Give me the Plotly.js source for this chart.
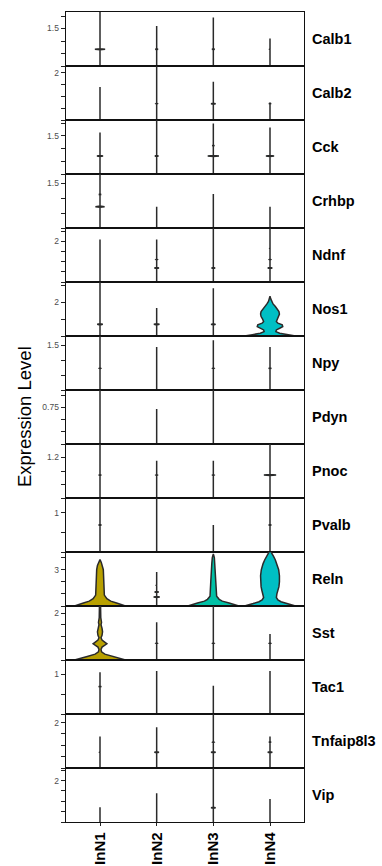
<!DOCTYPE html>
<html>
<head>
<meta charset="utf-8">
<script src="https://cdn.plot.ly/plotly-3.0.1.min.js"></script>
<style>html,body{margin:0;padding:0;background:#fff;}#chart{width:382px;height:866px;}</style>
</head>
<body>
<div id="chart"></div>
<script>
// ---------- DATA ----------
const clusters = ['InN1', 'InN2', 'InN3', 'InN4'];
const clusterColors = ['#B8A000', '#7CAE00', '#00C1A6', '#00BFC4'];
const genes = ['Calb1','Calb2','Cck','Crhbp','Ndnf','Nos1','Npy','Pdyn','Pnoc','Pvalb','Reln','Sst','Tac1','Tnfaip8l3','Vip'];

// upper limit of each panel's expression axis
const yMax = [2.16, 2.28, 2.13, 1.82, 2.65, 3.2, 1.82, 1.11, 1.6, 1.38, 4.46, 2.3, 1.36, 2.38, 2.61];
// tick values of each panel and the one tick that carries a label
const tickVals = [
  [0,0.5,1,1.5,2],[0,0.5,1,1.5,2],[0,0.5,1,1.5,2],[0,0.5,1,1.5],[0,0.5,1,1.5,2,2.5],
  [0,1,2,3],[0,0.5,1,1.5],[0,0.25,0.5,0.75,1],[0,0.4,0.8,1.2],[0,0.5,1],
  [0,1,2,3,4],[0,0.5,1,1.5,2],[0,0.5,1],[0,0.5,1,1.5,2],[0,0.5,1,1.5,2,2.5]
];
const labelledTick = [1.5, 2, 1.5, 1.5, 2, 2, 1.5, 0.75, 1.2, 1, 3, 2, 1, 2, 2];

// maximum expression per cluster (thin violins); null = drawn from a density profile / absent
const topCalb1 = [2.3, 1.60, 1.94, 1.10];
const topCalb2 = [1.39, 2.4, 1.61, 0.71];
const topCck = [1.64, 2.2, 1.99, 1.83];
const topCrhbp = [1.9, 0.72, 1.15, 0.72];
const topNdnf = [2.09, 2.09, 2.7, 2.7];
const topNos1 = [3.3, 1.66, 2.83, null];
const topNpy = [1.9, 1.45, 1.68, 1.45];
const topPdyn = [1.2, 0.72, 1.2, null];
const topPnoc = [1.7, 1.1, 1.1, 1.7];
const topPvalb = [1.45, 1.45, 0.69, 1.45];
const topReln = [null, 2.81, null, null];
const topSst = [null, 1.61, 2.4, 1.11];
const topTac1 = [1.05, 1.08, 0.71, 1.08];
const topTnfaip8l3 = [1.39, 1.8, 2.5, 1.39];
const topVip = [0.71, 1.39, 2.7, 1.11];

// density bumps on thin violins: [expression value, relative width]
const bumpsCalb1 = [[[0.67,0.2]], [[0.67,0.05]], [[0.67,0.05]], [[0.67,0.02]]];
const bumpsCalb2 = [[], [[0.69,0.03]], [[0.69,0.09]], [[0.69,0.04]]];
const bumpsCck = [[[0.71,0.12]], [[0.71,0.07]], [[0.71,0.22],[1.12,0.04]], [[0.71,0.16]]];
const bumpsCrhbp = [[[0.72,0.18],[1.13,0.04]], [], [], []];
const bumpsNdnf = [[], [[0.69,0.09],[1.1,0.03]], [[0.69,0.07]], [[0.69,0.09],[1.1,0.03],[1.4,0.015],[1.65,0.015]]];
const bumpsNos1 = [[[0.69,0.11]], [[0.69,0.11]], [[0.69,0.09]], []];
const bumpsNpy = [[[0.73,0.03]], [], [[0.73,0.03]], [[0.73,0.05]]];
const bumpsPdyn = [[], [], [], []];
const bumpsPnoc = [[[0.68,0.03]], [[0.68,0.03]], [[0.68,0.03]], [[0.68,0.24]]];
const bumpsPvalb = [[[0.69,0.05]], [], [], [[0.69,0.03]]];
const bumpsReln = [[], [[0.74,0.12],[1.16,0.08],[1.5,0.02],[1.72,0.02]], [], []];
const bumpsSst = [[], [[0.71,0.03]], [[0.71,0.03]], [[0.71,0.03]]];
const bumpsTac1 = [[[0.69,0.05]], [], [], []];
const bumpsTnfaip8l3 = [[[0.69,0.02]], [[0.69,0.09]], [[0.69,0.09],[1.14,0.03]], [[0.69,0.09],[1.14,0.04]]];
const bumpsVip = [[], [], [[0.69,0.09],[1.0,0.015],[1.2,0.015],[1.4,0.015],[1.6,0.015]], []];

// full density profiles (expression value, relative width)
const nos1InN4Y = [0,0.08,0.16,0.26,0.36,0.46,0.56,0.66,0.76,0.86,1.0,1.15,1.3,1.45,1.6,1.75,1.9,2.05,2.2,2.36];
const nos1InN4W = [1,0.69,0.38,0.23,0.25,0.38,0.5,0.48,0.31,0.25,0.29,0.35,0.37,0.35,0.29,0.21,0.12,0.06,0.03,0];
const relnInN1Y = [0,0.1,0.25,0.4,0.6,0.9,1.5,2.5,3.0,3.35,3.6,3.83];
const relnInN1W = [1,0.88,0.65,0.42,0.27,0.17,0.15,0.14,0.13,0.1,0.05,0];
const relnInN3Y = [0,0.1,0.25,0.4,0.55,0.8,1.2,2.0,3.0,3.5,4.0,4.3];
const relnInN3W = [1,0.88,0.62,0.35,0.23,0.13,0.12,0.1,0.08,0.06,0.04,0];
const relnInN4Y = [0,0.1,0.2,0.35,0.5,0.7,1.0,1.3,1.6,2.0,2.5,3.0,3.5,3.8,4.1,4.4,4.6];
const relnInN4W = [1,0.85,0.66,0.43,0.31,0.25,0.27,0.32,0.35,0.37,0.37,0.34,0.27,0.21,0.14,0.05,0];
const sstInN1Y = [0,0.05,0.15,0.25,0.35,0.45,0.55,0.69,0.85,0.95,1.05,1.2,1.35,1.5,1.6,1.8,2.4];
const sstInN1W = [1,0.85,0.5,0.19,0.06,0.04,0.08,0.27,0.08,0.04,0.08,0.1,0.08,0.04,0.06,0.03,0.02];

// ---------- BUILD ----------
const tops = [topCalb1, topCalb2, topCck, topCrhbp, topNdnf, topNos1, topNpy, topPdyn, topPnoc, topPvalb, topReln, topSst, topTac1, topTnfaip8l3, topVip];
const bumps = [bumpsCalb1, bumpsCalb2, bumpsCck, bumpsCrhbp, bumpsNdnf, bumpsNos1, bumpsNpy, bumpsPdyn, bumpsPnoc, bumpsPvalb, bumpsReln, bumpsSst, bumpsTac1, bumpsTnfaip8l3, bumpsVip];
const profiles = [
  {gene: 'Nos1', cluster: 'InN4', y: nos1InN4Y, w: nos1InN4W},
  {gene: 'Reln', cluster: 'InN1', y: relnInN1Y, w: relnInN1W},
  {gene: 'Reln', cluster: 'InN3', y: relnInN3Y, w: relnInN3W},
  {gene: 'Reln', cluster: 'InN4', y: relnInN4Y, w: relnInN4W},
  {gene: 'Sst', cluster: 'InN1', y: sstInN1Y, w: sstInN1W}
];

const HALF = 0.45;          // half of the violin width in category units
const FONT = 'Liberation Sans, Arial, Helvetica, sans-serif';
const nG = genes.length;
const traces = [];

function violinTrace(gi, ci, ys, ws) {
  const xs = [], yy = [];
  for (let k = 0; k < ys.length; k++) { xs.push(ci + ws[k] * HALF); yy.push(ys[k]); }
  for (let k = ys.length - 1; k >= 0; k--) { xs.push(ci - ws[k] * HALF); yy.push(ys[k]); }
  const ax = gi === 0 ? '' : String(gi + 1);
  return {
    type: 'scatter', mode: 'lines', x: xs, y: yy,
    xaxis: 'x' + ax, yaxis: 'y' + ax,
    fill: 'toself', fillcolor: clusterColors[ci],
    line: {color: '#2a2a2a', width: 1.5},
    hoverinfo: 'skip', showlegend: false
  };
}

genes.forEach((g, gi) => {
  clusters.forEach((c, ci) => {
    const top = tops[gi][ci];
    if (top === null) return;
    const d = yMax[gi] * 0.01;
    const ys = [0], ws = [0];
    bumps[gi][ci].slice().sort((a, b) => a[0] - b[0]).forEach(([v, w]) => {
      ys.push(v - d, v, v + d); ws.push(0, w, 0);
    });
    ys.push(top); ws.push(0);
    traces.push(violinTrace(gi, ci, ys, ws));
  });
});
profiles.forEach(p => {
  traces.push(violinTrace(genes.indexOf(p.gene), clusters.indexOf(p.cluster), p.y, p.w));
});

const layout = {
  width: 382, height: 866,
  margin: {l: 66, r: 78, t: 12, b: 44, pad: 0},
  paper_bgcolor: '#ffffff', plot_bgcolor: '#ffffff',
  font: {family: FONT, color: '#000'},
  showlegend: false,
  annotations: [],
  hovermode: false
};

genes.forEach((g, gi) => {
  const ax = gi === 0 ? '' : String(gi + 1);
  const top = 1 - gi / nG, bot = 1 - (gi + 1) / nG;
  const last = gi === nG - 1;
  layout['yaxis' + ax] = {
    domain: [bot, top], range: [0, yMax[gi]], anchor: 'x' + ax,
    tickmode: 'array', tickvals: tickVals[gi],
    ticktext: tickVals[gi].map(v => v === labelledTick[gi] ? String(v) : ''),
    ticks: 'outside', ticklen: 4, tickwidth: 1, tickcolor: '#222',
    tickfont: {family: FONT, size: 8.5, color: '#4d4d4d'},
    showline: true, linecolor: '#111', linewidth: 1.4, mirror: true,
    showgrid: false, zeroline: false, fixedrange: true, automargin: false
  };
  layout['xaxis' + ax] = {
    domain: [0, 1], range: [-0.6, 3.6], anchor: 'y' + ax,
    tickmode: 'array', tickvals: [0, 1, 2, 3], ticktext: clusters,
    showticklabels: last, ticks: last ? 'outside' : '', ticklen: 3, tickwidth: 1, tickcolor: '#222',
    tickangle: -90,
    tickfont: {family: FONT, size: 15, color: '#000', weight: 'bold'},
    showline: true, linecolor: '#111', linewidth: 1.4, mirror: true,
    showgrid: false, zeroline: false, fixedrange: true, automargin: false
  };
  layout.annotations.push({
    text: g, xref: 'paper', yref: 'y' + ax + ' domain',
    x: 1.025, y: 0.5, xanchor: 'left', yanchor: 'middle', showarrow: false,
    font: {family: FONT, size: 14.5, color: '#000', weight: 'bold'}
  });
});

layout.annotations.push({
  text: 'Expression Level', xref: 'paper', yref: 'paper',
  x: -0.176, y: 0.5, xanchor: 'center', yanchor: 'middle', textangle: -90, showarrow: false,
  font: {family: FONT, size: 18.5, color: '#000'}
});

Plotly.newPlot('chart', traces, layout, {staticPlot: true, displayModeBar: false});
</script>
</body>
</html>
